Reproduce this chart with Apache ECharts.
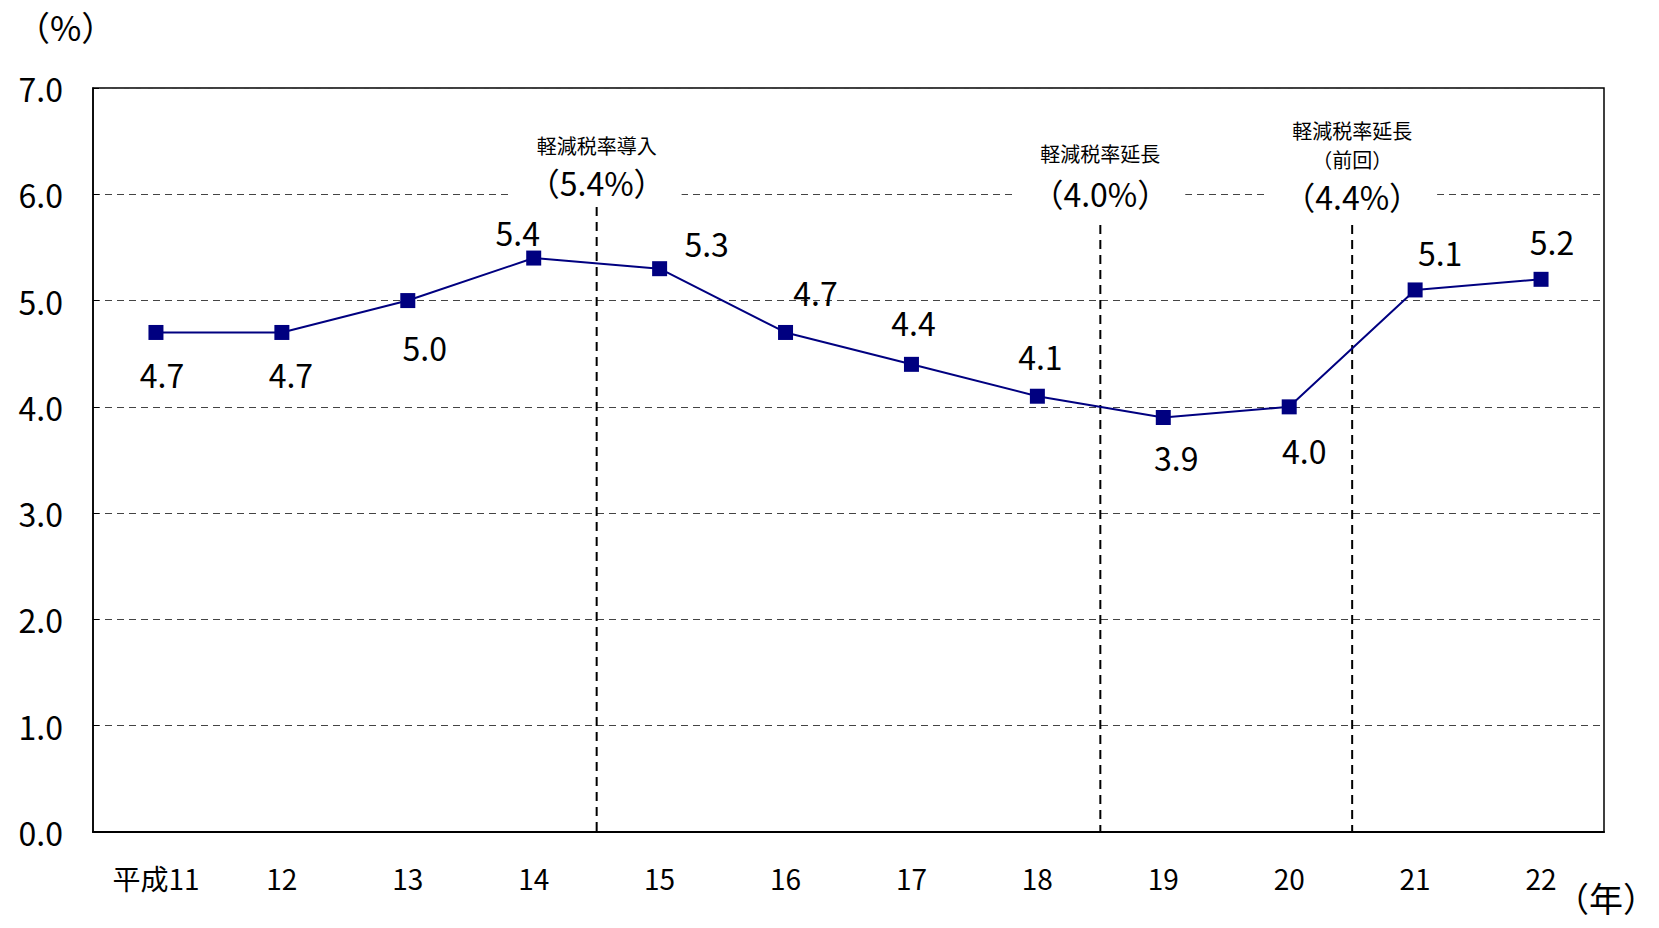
<!DOCTYPE html>
<html lang="ja" style="height: 100%">
<head>
  <meta charset="utf-8">
</head>
<body style="height: 100%; margin: 0">
  <div id="container" style="width: 1659px; height: 928px"></div>

  <script type="text/javascript" src="https://fastly.jsdelivr.net/npm/echarts@6/dist/echarts.min.js"></script>
  <script type="text/javascript">
    // 年（平成）と値（%）
    var years = ['平成11', '12', '13', '14', '15', '16', '17', '18', '19', '20', '21', '22'];
    var rates = [4.7, 4.7, 5.0, 5.4, 5.3, 4.7, 4.4, 4.1, 3.9, 4.0, 5.1, 5.2];

    // 注記（年の境目に縦の破線）
    var markAt = [4, 8, 10];
    var markTop = [5.88, 5.71, 5.71];
    var markTexts = [
      ['軽減税率導入', '（5.4%）'],
      ['軽減税率延長', '（4.0%）'],
      ['軽減税率延長', '（前回）', '（4.4%）']
    ];
    var markTextY = [
      [6.46, 6.12],
      [6.38, 6.01],
      [6.60, 6.33, 5.98]
    ];

    // ラベルの位置ずらし（px）
    var labelOffsets = [[6, 42], [9, 42], [17, 46], [-16, -26], [47, -26], [30, -40],
      [2, -42], [3, -40], [13, 40], [15, 43], [25, -38], [11, -38]];

    var FONT = '"Noto Sans CJK JP", sans-serif';

    var dom = document.getElementById('container');
    var myChart = echarts.init(dom, null, { renderer: 'svg' });

    var lineData = rates.map(function (v, i) {
      return {
        value: v,
        label: { offset: labelOffsets[i] }
      };
    });

    var markData = markAt.map(function (x, i) {
      return [x, markTop[i]];
    });

    var option = {
      animation: false,
      backgroundColor: '#fff',
      grid: {
        left: 93, right: 55, top: 88, bottom: 96,
        show: true, borderColor: '#000', borderWidth: 1.5, backgroundColor: 'transparent'
      },
      graphic: [
        { type: 'text', left: 16, top: 9, style: { text: '（%）', font: '34px ' + FONT, fill: '#000' } },
        { type: 'text', right: 2, top: 880, style: { text: '（年）', font: '34px ' + FONT, fill: '#000' } }
      ],
      xAxis: [{
        type: 'category',
        data: years,
        axisLine: { lineStyle: { color: '#000', width: 2 } },
        axisTick: { inside: true, length: 10, lineStyle: { color: '#666', width: 1.5 } },
        axisLabel: { fontSize: 28, fontFamily: FONT, color: '#000', margin: 32 }
      }, {
        type: 'value', min: 0, max: 12, show: false
      }],
      yAxis: {
        type: 'value',
        min: 0, max: 7, interval: 1,
        axisLine: { show: true, lineStyle: { color: '#000', width: 1.5 } },
        axisTick: { show: true, inside: true, length: 6, lineStyle: { color: '#000' } },
        axisLabel: {
          fontSize: 32, fontFamily: FONT, color: '#000', margin: 30,
          formatter: function (v) { return v.toFixed(1); }
        },
        splitLine: { show: true, lineStyle: { color: '#444', width: 1, type: [7, 5] } }
      },
      series: [{
        type: 'custom',
        xAxisIndex: 1,
        yAxisIndex: 0,
        z: 3,
        clip: false,
        data: markData,
        renderItem: function (params, api) {
          var i = params.dataIndex;
          var x = api.value(0);
          var top = api.coord([x, api.value(1)]);
          var bottom = api.coord([x, 0]);
          var children = [{
            type: 'line',
            shape: { x1: top[0], y1: top[1], x2: bottom[0], y2: bottom[1] },
            style: { stroke: '#000', lineWidth: 2, lineDash: [9, 6] }
          }];
          markTexts[i].forEach(function (t, j) {
            var p = api.coord([x, markTextY[i][j]]);
            var big = t.indexOf('%') >= 0;
            children.push({
              type: 'text',
              x: p[0], y: p[1],
              style: {
                text: t,
                font: (big ? '32px ' : '20px ') + FONT,
                fill: '#000',
                align: 'center',
                verticalAlign: 'middle',
                backgroundColor: big ? '#fff' : null,
                padding: big ? [4, 16] : 0
              }
            });
          });
          return { type: 'group', children: children };
        }
      }, {
        type: 'line',
        data: lineData,
        z: 5,
        symbol: 'rect',
        symbolSize: 15,
        lineStyle: { color: '#000080', width: 2 },
        itemStyle: { color: '#000080' },
        label: {
          show: true,
          position: 'inside',
          align: 'center',
          verticalAlign: 'middle',
          fontSize: 32,
          fontFamily: FONT,
          color: '#000',
          formatter: function (p) { return p.value.toFixed(1); }
        }
      }]
    };

    myChart.setOption(option);
    window.addEventListener('resize', myChart.resize);
  </script>
</body>
</html>
